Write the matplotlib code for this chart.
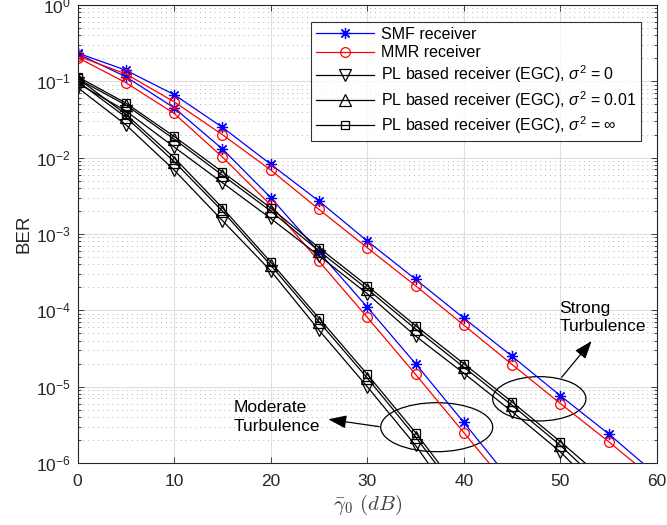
import matplotlib
matplotlib.use("Agg")
import matplotlib.pyplot as plt
from matplotlib.patches import Ellipse
from matplotlib.ticker import LogLocator, NullLocator, FixedLocator

plt.rcParams['font.family'] = ['Liberation Sans', 'DejaVu Sans']
plt.rcParams['mathtext.fontset'] = 'custom'
plt.rcParams['mathtext.rm'] = 'Liberation Sans'
plt.rcParams['mathtext.it'] = 'Liberation Sans:italic'
plt.rcParams['mathtext.bf'] = 'Liberation Sans:bold'
plt.rcParams['mathtext.sf'] = 'Liberation Sans'

# SNR axis (dB)
snr = [0, 5, 10, 15, 20, 25, 30, 35, 40, 45, 50, 55, 60]

# Strong turbulence
smf_strong = [0.235, 0.14, 0.067, 0.025, 0.0082, 0.0027, 8.1e-4, 2.55e-4, 7.9e-5, 2.5e-5, 7.6e-6, 2.4e-6, 6.9e-7]
mmr_strong = [0.215, 0.125, 0.054, 0.020, 0.0069, 0.0021, 6.6e-4, 2.1e-4, 6.4e-5, 1.95e-5, 6.0e-6, 1.9e-6, 5.7e-7]
pl0_strong = [0.095, 0.041, 0.0138, 0.0047, 0.0016, 5.2e-4, 1.65e-4, 4.6e-5, 1.5e-5, 4.7e-6, 1.4e-6, 3.2e-7]
pl001_strong = [0.108, 0.049, 0.0175, 0.0059, 0.0020, 6.0e-4, 1.9e-4, 5.7e-5, 1.8e-5, 5.7e-6, 1.7e-6, 4.3e-7]
plinf_strong = [0.115, 0.052, 0.019, 0.0065, 0.0022, 6.6e-4, 2.1e-4, 6.3e-5, 2.0e-5, 6.3e-6, 1.9e-6, 5.4e-7]

# Moderate turbulence
smf_moderate = [0.23, 0.115, 0.045, 0.013, 0.0030, 5.8e-4, 1.1e-4, 2.0e-5, 3.4e-6, 5.6e-7]
mmr_moderate = [0.205, 0.096, 0.038, 0.0102, 0.0024, 4.4e-4, 8.1e-5, 1.45e-5, 2.5e-6, 4.3e-7]
pl0_moderate = [0.083, 0.027, 0.0069, 0.0015, 3.3e-4, 5.5e-5, 1.0e-5, 1.7e-6, 2.2e-7]
pl001_moderate = [0.100, 0.034, 0.0089, 0.0020, 3.9e-4, 7.1e-5, 1.3e-5, 2.2e-6, 3.2e-7]
plinf_moderate = [0.110, 0.037, 0.0100, 0.0022, 4.3e-4, 7.9e-5, 1.45e-5, 2.5e-6, 3.7e-7]

labels = [
    'SMF receiver',
    'MMR receiver',
    r'PL based receiver (EGC), $\sigma^2$ = 0',
    r'PL based receiver (EGC), $\sigma^2$ = 0.01',
    r'PL based receiver (EGC), $\sigma^2$ = $\infty$',
]

fig = plt.figure(figsize=(6.67, 5.25), dpi=100)
ax = fig.add_axes([0.1162, 0.1181, 0.8688, 0.8724])

asterisk = (8, 2, 0)
lw = 0.9
styles = [
    dict(color='blue', marker=asterisk, ms=8, mew=0.9),
    dict(color='red', marker='o', ms=7, mfc='none', mew=0.9),
    dict(color='black', marker='v', ms=8, mfc='none', mew=0.9),
    dict(color='black', marker='^', ms=8, mfc='none', mew=0.9),
    dict(color='black', marker='s', ms=6, mfc='none', mew=0.9),
]

strong = [smf_strong, mmr_strong, pl0_strong, pl001_strong, plinf_strong]
moderate = [smf_moderate, mmr_moderate, pl0_moderate, pl001_moderate, plinf_moderate]

handles = []
for st, ys, lab in zip(styles, moderate, labels):
    h, = ax.semilogy(snr[:len(ys)], ys, lw=lw, label=lab, **st)
    handles.append(h)
for st, ys in zip(styles, strong):
    ax.semilogy(snr[:len(ys)], ys, lw=lw, **st)

ax.set_xlim(0, 60)
ax.set_ylim(1e-6, 1)
ax.xaxis.set_major_locator(FixedLocator([0, 10, 20, 30, 40, 50, 60]))
ax.xaxis.set_minor_locator(NullLocator())
ax.yaxis.set_major_locator(LogLocator(base=10, numticks=10))
ax.yaxis.set_minor_locator(LogLocator(base=10, subs=range(2, 10), numticks=20))

axis_col = '#262626'
ax.set_axisbelow(True)
ax.grid(which='major', color='#dedede', lw=0.8, ls='-')
ax.grid(which='minor', axis='y', color='#b0b0b0', lw=0.7, ls=(0, (1, 4)))
for s in ax.spines.values():
    s.set_color(axis_col)
    s.set_linewidth(0.8)
ax.tick_params(which='both', direction='in', top=True, right=True,
               colors=axis_col, labelsize=12.5, width=0.6)
ax.tick_params(which='major', length=4.2)
ax.tick_params(axis='x', which='major', pad=8)
ax.tick_params(axis='y', which='major', pad=5)
ax.tick_params(which='minor', length=2.2)

ax.set_ylabel('BER', fontsize=13.5, color=axis_col, labelpad=2)
ax.set_xlabel(r'$\bar{\gamma}_0\ (dB)$', fontsize=15, color='#404040',
              math_fontfamily='cm', labelpad=3)

leg = ax.legend(handles=handles, loc='upper right', bbox_to_anchor=(0.9724, 0.9629),
                borderaxespad=0, fontsize=11.5, frameon=True, fancybox=False,
                handlelength=3.6, handletextpad=0.45, borderpad=0.3,
                labelspacing=0.22)
leg.get_frame().set_edgecolor('black')
leg.get_frame().set_linewidth(0.8)

# Turbulence annotations
ax.add_patch(Ellipse((0.6199, 0.0782), 0.1933, 0.107, transform=ax.transAxes,
                     fill=False, ec='black', lw=0.9))
ax.add_patch(Ellipse((0.7969, 0.1402), 0.161, 0.0967, transform=ax.transAxes,
                     fill=False, ec='black', lw=0.9))
arrow = dict(arrowstyle='-|>,head_length=1.1,head_width=0.4', color='black', lw=0.9,
             shrinkA=0, shrinkB=0)
ax.annotate('', xy=(0.4328, 0.0954), xytext=(0.5208, 0.0793),
            xycoords='axes fraction', textcoords='axes fraction', arrowprops=arrow)
ax.annotate('', xy=(0.8873, 0.2664), xytext=(0.8355, 0.1871),
            xycoords='axes fraction', textcoords='axes fraction', arrowprops=arrow)
ax.text(0.2689, 0.1004, 'Moderate\nTurbulence', transform=ax.transAxes,
        ha='left', va='center', fontsize=12.5, linespacing=1.3, color='black')
ax.text(0.8317, 0.3173, 'Strong\nTurbulence', transform=ax.transAxes,
        ha='left', va='center', fontsize=12.5, linespacing=1.3, color='black')

fig.savefig('out.png', dpi=100)
